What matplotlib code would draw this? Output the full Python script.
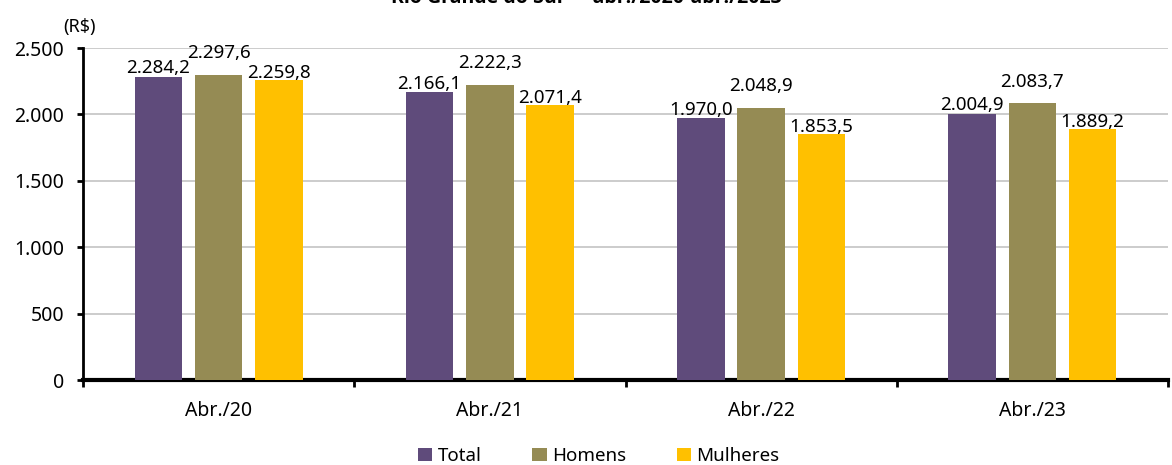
import numpy as np
import matplotlib.pyplot as plt
from matplotlib.ticker import FuncFormatter, FixedLocator

plt.rcParams['font.family'] = ['Noto Sans', 'DejaVu Sans']

# Rendimento médio por sexo
periodos = ['Abr./20', 'Abr./21', 'Abr./22', 'Abr./23']
total = [2284.2, 2166.1, 1970.0, 2004.9]
homens = [2297.6, 2222.3, 2048.9, 2083.7]
mulheres = [2259.8, 2071.4, 1853.5, 1889.2]

series = [
    ('Total', total, '#5f4b7b', 2.5),
    ('Homens', homens, '#958b54', 12),
    ('Mulheres', mulheres, '#ffc000', 1.5),
]

def br(v, dec=1):
    s = f'{v:,.{dec}f}'
    return s.replace(',', 'X').replace('.', ',').replace('X', '.')

fig = plt.figure(figsize=(11.72, 4.65), dpi=100)
ax = fig.add_axes([83 / 1172, 1 - 380 / 465, 1085 / 1172, 332 / 465])

x = np.arange(len(periodos))
w = 0.175
step = 0.222
for i, (nome, vals, cor, dy) in enumerate(series):
    pos = x + (i - 1) * step
    ax.bar(pos, vals, width=w, color=cor, label=nome, zorder=3)
    for p, v in zip(pos, vals):
        ax.annotate(br(v), (p, v), xytext=(0, dy), textcoords='offset points',
                    ha='center', va='baseline', fontsize=13.5, zorder=4)

ax.set_xlim(-0.5, len(periodos) - 0.5)
ax.set_ylim(0, 2500)
ax.set_yticks(np.arange(0, 2501, 500))
ax.yaxis.set_major_formatter(FuncFormatter(lambda v, _: br(v, 0)))
ax.grid(axis='y', color='#c4c4c4', linewidth=1.2, zorder=0)

ax.set_xticks(x)
ax.set_xticklabels(periodos, fontsize=14)
ax.xaxis.set_minor_locator(FixedLocator(np.arange(-0.5, len(periodos), 1.0)))
ax.tick_params(axis='x', which='major', length=0, pad=15)
ax.tick_params(axis='x', which='minor', length=5, width=2, direction='out')
ax.tick_params(axis='y', length=4.5, width=2, direction='out', labelsize=14, pad=9)

for s in ['top', 'right']:
    ax.spines[s].set_visible(False)
ax.spines['left'].set_linewidth(2)
ax.spines['bottom'].set_linewidth(3)

fig.text(80 / 1172, 1 - 27 / 465, '(R$)', ha='center', va='center', fontsize=13)
fig.text(0.5, 1 - 3 / 465, 'Rio Grande do Sul — abr./2020-abr./2023',
         ha='center', va='baseline', fontsize=14, fontweight='bold',
         family=['Open Sans', 'DejaVu Sans'])

fig.legend(loc='center', bbox_to_anchor=(0.5 + 13 / 1172, 1 - 456 / 465), ncol=3,
           frameon=False, fontsize=13.5, handlelength=0.75, handleheight=0.75,
           handletextpad=0.3, columnspacing=2.7)

fig.savefig('out.png', dpi=100)
